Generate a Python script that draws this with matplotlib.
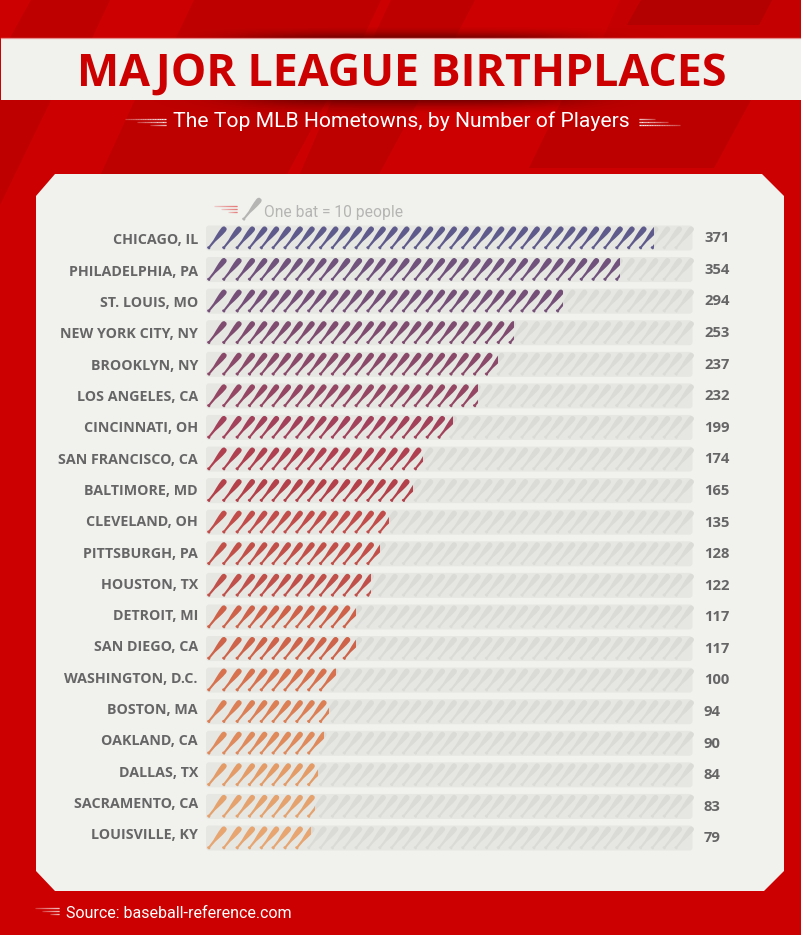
import numpy as np
import matplotlib
matplotlib.use("Agg")
import matplotlib.pyplot as plt
from matplotlib.patches import Polygon, Rectangle, FancyBboxPatch

cities = ["CHICAGO, IL", "PHILADELPHIA, PA", "ST. LOUIS, MO", "NEW YORK CITY, NY", "BROOKLYN, NY",
          "LOS ANGELES, CA", "CINCINNATI, OH", "SAN FRANCISCO, CA", "BALTIMORE, MD", "CLEVELAND, OH",
          "PITTSBURGH, PA", "HOUSTON, TX", "DETROIT, MI", "SAN DIEGO, CA", "WASHINGTON, D.C.",
          "BOSTON, MA", "OAKLAND, CA", "DALLAS, TX", "SACRAMENTO, CA", "LOUISVILLE, KY"]
players = [371, 354, 294, 253, 237, 232, 199, 174, 165, 135, 128, 122, 117, 117, 100, 94, 90, 84, 83, 79]
# bats as drawn in the picture (the graphic does not follow the printed figure exactly)
bats_shown = [37.15, 34.25, 29.39, 25.29, 23.77, 22.28, 19.92, 17.5, 16.62, 14.62,
              13.8, 13.25, 11.76, 11.76, 9.99, 9.56, 8.99, 8.6, 8.44, 7.92]
row_colors = ["#5F5A8C", "#70527C", "#754F78", "#7F4C70", "#8A4969", "#954662", "#A3415A", "#B0404F",
              "#B44049", "#C24C4A", "#C35048", "#C2504A", "#CE6148", "#CF6349", "#D8714E", "#DD7F55",
              "#E0895B", "#E49B66", "#E6A26D", "#E8A56F"]

RED, PANEL, TRACK, GHOST = "#CC0000", "#F1F2EE", "#E6E7E3", "#DADBD7"
TITLE_FONT = ["Open Sans", "DejaVu Sans"]
THIN_FONT = ["Roboto", "DejaVu Sans"]

fig = plt.figure(figsize=(8.01, 9.35), dpi=100, facecolor=RED)
ax = fig.add_axes([0, 0, 1, 1])
ax.set_xlim(0, 801)
ax.set_ylim(935, 0)
ax.axis("off")

# background streaks
streaks = [
    ([(31, 0), (110, 0), (92, 38), (10, 38)], "#BF0000"),
    ([(194, 0), (381, 0), (363, 38), (176, 38)], "#BF0000"),
    ([(391, 0), (475, 0), (455, 38), (373, 38)], "#BF0000"),
    ([(620, 0), (801, 0), (801, 38), (603, 38)], "#C40000"),
    ([(641, 0), (772, 0), (759, 25), (627, 25)], "#B30000"),
    ([(0, 100), (51, 100), (0, 205)], "#BF0000"),
    ([(135, 100), (327, 100), (286, 176), (100, 176)], "#BD0000"),
    ([(332, 100), (419, 100), (378, 176), (299, 176)], "#BD0000"),
    ([(562, 100), (751, 100), (714, 168), (529, 168)], "#BC0000"),
]
for pts, c in streaks:
    ax.add_patch(Polygon(pts, closed=True, fc=c, ec="none", zorder=1))


def shadow(y0, y1, fade_down):
    h, w = 40, 801
    xs = np.arange(w)
    ys = np.linspace(0, 1, h)
    ax_part = np.exp(-((xs - 410) / 170.0) ** 4)
    ay_part = (1 - ys) ** 1.6 if fade_down else ys ** 1.6
    img = np.zeros((h, w, 4))
    img[..., 0] = 0.36
    img[..., 3] = 0.75 * np.outer(ay_part, ax_part)
    ax.imshow(img, extent=(0, 801, y1, y0), aspect="auto", zorder=2, interpolation="bilinear")


shadow(26, 38, False)
shadow(100, 114, True)
ax.set_xlim(0, 801)
ax.set_ylim(935, 0)

# title band
ax.add_patch(Rectangle((1, 38), 800, 62, fc=PANEL, ec="none", zorder=3))
ax.plot([1, 801], [37.6, 37.6], color="#E59090", lw=0.9, zorder=3)
ax.text(401.5, 86, "MAJOR LEAGUE BIRTHPLACES", color=RED, fontsize=32.2, fontweight="bold",
        family=TITLE_FONT, ha="center", va="baseline", zorder=4)
ax.text(401, 127, "The Top MLB Hometowns, by Number of Players", color="white", fontsize=15.2,
        fontweight="normal", family=THIN_FONT, ha="center", va="baseline", zorder=4)


def speed_lines(x0, x1, y0, color, step=3.0):
    """Three fading dashes used as an ornament."""
    width = x1 - x0
    for j, a in enumerate([0.0, 0.3, 0.62]):
        xx = np.linspace(x0 + a * width, x1, 25)
        for i in range(24):
            ax.plot(xx[i:i + 2], [y0 + j * step] * 2, color=color, lw=0.9,
                    alpha=0.25 + 0.75 * (i / 24), solid_capstyle="butt", zorder=4)


def speed_lines_rev(x0, x1, y0, color, step=3.0):
    width = x1 - x0
    for j, a in enumerate([0.0, 0.3, 0.62]):
        xx = np.linspace(x0, x1 - a * width, 25)
        for i in range(24):
            ax.plot(xx[i:i + 2], [y0 + (2 - j) * step] * 2, color=color, lw=0.9,
                    alpha=1.0 - 0.75 * (i / 24), solid_capstyle="butt", zorder=4)


speed_lines(125, 166, 119, "white")
speed_lines_rev(639, 680, 119, "white")

# panel
ax.add_patch(Polygon([(55, 174), (762, 174), (784, 196), (784, 871), (764, 891), (55, 891), (36, 871), (36, 196)],
                     closed=True, fc=PANEL, ec="none", zorder=3))

# bat shape: half-width along the axis, in pixels
T = np.array([0.0, 0.02, 0.06, 0.09, 0.14, 0.36, 0.55, 0.74, 0.90, 0.96, 1.0])
HW = np.array([1.0, 1.6, 1.6, 1.0, 1.0, 1.2, 2.0, 2.6, 2.8, 2.4, 1.2])


def bat_outline(bx, by, dx=17.5, dy=-21.5, scale=1.0):
    d = np.array([dx, dy]) * scale
    L = np.hypot(*d)
    u = d / L
    n = np.array([-u[1], u[0]])
    hw = HW * scale
    left = np.outer(T * L, u) + np.outer(hw, n)
    right = np.outer(T * L, u) - np.outer(hw, n)
    return np.vstack([left, right[::-1]]) + [bx, by]


def bat_base(k):
    heads = [208.0, 223.0, 236.4, 248.7]
    return heads[k] if k < 4 else 248.7 + (k - 3) * 11.85


N_SLOTS = 40
ROW0, ROW_STEP = 238.0, 31.58

for i, (city, n, shown, col) in enumerate(zip(cities, players, bats_shown, row_colors)):
    yc = ROW0 + ROW_STEP * i
    ax.add_patch(FancyBboxPatch((208, yc - 10.5), 482.5, 21, boxstyle="round,pad=2,rounding_size=3",
                                fc=TRACK, ec="none", zorder=4))
    whole = int(shown)
    clip_x = bat_base(whole) + (shown - whole) * 16.0
    clip = Rectangle((200, yc - 16), clip_x - 200, 32, transform=ax.transData)
    for k in range(N_SLOTS):
        pts = bat_outline(bat_base(k), yc + 10.7)
        ax.add_patch(Polygon(pts, closed=True, fc=GHOST, ec="none", zorder=5))
        if k <= whole:
            p = Polygon(pts, closed=True, fc=col, ec="none", zorder=6)
            ax.add_patch(p)
            p.set_clip_path(clip)
    ax.text(198, 240.5 + 31.3 * i, city, color="#666666", fontsize=10.3, fontweight="bold",
            family=TITLE_FONT, ha="right", va="center", zorder=7)
    ax.text(704, yc + 0.3, str(n), color="#666666", fontsize=10.6, fontweight="bold",
            family=TITLE_FONT, ha="left", va="center", zorder=7)

# legend
speed_lines(214, 237, 205.5, "#E05050", step=3.0)
ax.add_patch(Polygon(bat_outline(243, 220), closed=True, fc="#B5B5B3", ec="none", zorder=6))
ax.text(264, 213, "One bat = 10 people", color="#B5B5B3", fontsize=11.25, family=THIN_FONT,
        ha="left", va="center", zorder=7)

# footer
speed_lines(35, 59, 908, "white")
ax.text(66, 914, "Source: baseball-reference.com", color="white", fontsize=11.5, family=THIN_FONT,
        ha="left", va="center", zorder=7)

fig.savefig("out.png", dpi=100, facecolor=RED)
